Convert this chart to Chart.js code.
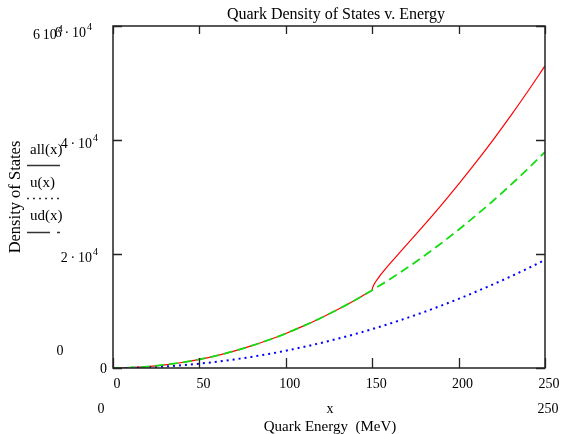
<!DOCTYPE html>
<html>
<head>
<meta charset="utf-8">
<script src="https://cdn.jsdelivr.net/npm/chart.js@4"></script>
<style>
  html, body { margin: 0; padding: 0; background: #fff; }
  #wrap { width: 561px; height: 434px; }
</style>
</head>
<body>
<div id="wrap"><canvas id="dosChart" width="561" height="434"></canvas></div>
<script>
// quark energy (MeV) samples
const energy = [0, 10, 20, 30, 40, 50, 60, 70, 80, 90, 100, 110, 120, 130, 140, 150,
                160, 170, 180, 190, 200, 210, 220, 230, 240, 250];
// ud(x) - green dashed
const udDensity = [0, 60, 240, 550, 970, 1520, 2180, 2970, 3880, 4910, 6060, 7340, 8730, 10250, 11890, 13650,
                   15530, 17530, 19650, 21890, 24260, 26750, 29350, 32080, 34930, 37900];
// u(x) - blue dotted
const uDensity = [0, 30, 120, 275, 485, 760, 1090, 1485, 1940, 2455, 3030, 3670, 4365, 5125, 5945, 6825,
                  7765, 8765, 9825, 10945, 12130, 13375, 14675, 16040, 17465, 18950];
// all(x) - red solid; below the 150 MeV threshold it lies on ud(x)
const allEnergyLow = [0, 10, 20, 30, 40, 50, 60, 70, 80, 90, 100, 110, 120, 130, 140, 150];
const allDensityLow = [0, 60, 240, 550, 970, 1520, 2180, 2970, 3880, 4910, 6060, 7340, 8730, 10250, 11890, 13650];
const allEnergyHigh = [150, 150.1, 150.5, 151, 152, 154, 157, 160, 165, 170, 180, 190, 200, 210, 220, 230, 240, 250];
const allDensityHigh = [13650, 13910, 14290, 14620, 15140, 16000, 17145, 18220, 19935, 21640, 25060, 28580,
                        32250, 36070, 40040, 44190, 48510, 53000];

const xTicks = [0, 50, 100, 150, 200, 250];
const yTicks = [0, 20000, 40000, 60000];
const yTickLabels = [["0", ""], ["2\u2009\u00b7\u200910", "4"], ["4\u2009\u00b7\u200910", "4"], ["6\u2009\u00b7\u200910", "4"]];

const SERIF = '"Liberation Serif", "DejaVu Serif", serif';

function pts(xs, ys) {
  return xs.map((x, i) => ({ x: x, y: ys[i] }));
}

function supText(ctx, base, sup, x, y, align) {
  ctx.font = '14px ' + SERIF;
  const bw = ctx.measureText(base).width;
  ctx.font = '10px ' + SERIF;
  const sw = sup ? ctx.measureText(sup).width + 1 : 0;
  let left = x;
  if (align === 'right') left = x - bw - sw;
  else if (align === 'center') left = x - (bw + sw) / 2;
  ctx.textAlign = 'left';
  ctx.font = '14px ' + SERIF;
  ctx.fillText(base, left, y);
  if (sup) {
    ctx.font = '10px ' + SERIF;
    ctx.fillText(sup, left + bw + 1, y - 7);
  }
}

const framePlugin = {
  id: 'mathcadFrame',
  afterDraw(chart) {
    const ctx = chart.ctx;
    const a = chart.chartArea;
    const xs = chart.scales.x;
    const ys = chart.scales.y;
    ctx.save();
    ctx.fillStyle = '#000';
    ctx.strokeStyle = '#222';
    ctx.lineWidth = 1.5;
    ctx.setLineDash([]);
    ctx.strokeRect(a.left, a.top, a.right - a.left, a.bottom - a.top);

    // inward ticks
    ctx.lineWidth = 1.3;
    xTicks.forEach(v => {
      const px = Math.round(xs.getPixelForValue(v)) + 0.5;
      ctx.beginPath();
      ctx.moveTo(px, a.bottom); ctx.lineTo(px, a.bottom - 10);
      ctx.moveTo(px, a.top); ctx.lineTo(px, a.top + 8);
      ctx.stroke();
    });
    yTicks.forEach(v => {
      const py = Math.round(ys.getPixelForValue(v)) + 0.5;
      ctx.beginPath();
      ctx.moveTo(a.left, py); ctx.lineTo(a.left + 9, py);
      ctx.moveTo(a.right, py); ctx.lineTo(a.right - 9, py);
      ctx.stroke();
    });

    // x tick labels
    ctx.font = '14px ' + SERIF;
    ctx.textAlign = 'center';
    ctx.textBaseline = 'alphabetic';
    xTicks.forEach(v => {
      ctx.fillText(String(v), xs.getPixelForValue(v) + 4, a.bottom + 20);
    });

    // y tick labels
    yTicks.forEach((v, i) => {
      const lab = yTickLabels[i];
      const py = ys.getPixelForValue(v);
      if (v === 0) supText(ctx, lab[0], lab[1], a.left - 6, py + 5, 'right');
      else if (i === yTicks.length - 1) supText(ctx, lab[0], lab[1], a.left - 21, py + 11, 'right');
      else supText(ctx, lab[0], lab[1], a.left - 15, py + 8, 'right');
    });

    // axis limit labels
    supText(ctx, '6\u200910', '4', 33, 39, 'left');
    supText(ctx, '0', '', 60, 355, 'center');
    supText(ctx, '0', '', 101, 413, 'center');
    supText(ctx, '250', '', 548, 413, 'center');
    supText(ctx, 'x', '', 330, 413, 'center');

    // title and axis titles
    ctx.font = '16px ' + SERIF;
    ctx.textAlign = 'center';
    ctx.fillText('Quark Density of States v. Energy', 336, 19);
    ctx.font = '15px ' + SERIF;
    ctx.fillText('Quark Energy  (MeV)', 330, 431);
    ctx.save();
    ctx.font = '16.5px ' + SERIF;
    ctx.translate(20, 197);
    ctx.rotate(-Math.PI / 2);
    ctx.fillText('Density of States', 0, 0);
    ctx.restore();

    // trace legend in the left margin
    ctx.textAlign = 'left';
    ctx.font = '15px ' + SERIF;
    ctx.fillText('all(x)', 30, 154);
    ctx.fillText('u(x)', 30, 187);
    ctx.fillText('ud(x)', 30, 220);
    ctx.strokeStyle = '#333';
    ctx.lineWidth = 1.3;
    ctx.beginPath(); ctx.moveTo(27, 165.5); ctx.lineTo(60, 165.5); ctx.stroke();
    ctx.setLineDash([2, 4]);
    ctx.beginPath(); ctx.moveTo(27, 198.5); ctx.lineTo(60, 198.5); ctx.stroke();
    ctx.setLineDash([23, 7]);
    ctx.beginPath(); ctx.moveTo(27, 232.5); ctx.lineTo(60, 232.5); ctx.stroke();
    ctx.restore();
  }
};

const redStyle = {
  borderColor: '#ff0000',
  borderWidth: 1.2,
  pointRadius: 0,
  cubicInterpolationMode: 'monotone',
  order: 3,
};

new Chart(document.getElementById('dosChart').getContext('2d'), {
  type: 'line',
  data: {
    datasets: [
      Object.assign({ label: 'all(x)', data: pts(allEnergyLow, allDensityLow) }, redStyle),
      Object.assign({ label: 'all(x) above threshold', data: pts(allEnergyHigh, allDensityHigh) }, redStyle),
      {
        label: 'u(x)',
        data: pts(energy, uDensity),
        borderColor: '#0000ff',
        borderWidth: 2,
        borderDash: [2, 4],
        pointRadius: 0,
        cubicInterpolationMode: 'monotone',
        order: 2,
      },
      {
        label: 'ud(x)',
        data: pts(energy, udDensity),
        borderColor: '#11dd11',
        borderWidth: 1.8,
        borderDash: [9, 5],
        pointRadius: 0,
        cubicInterpolationMode: 'monotone',
        order: 1,
      },
    ],
  },
  options: {
    responsive: false,
    animation: false,
    layout: { padding: { left: 113, right: 16, top: 26, bottom: 66 } },
    plugins: { legend: { display: false }, tooltip: { enabled: false } },
    scales: {
      x: { type: 'linear', min: 0, max: 250, display: false },
      y: { type: 'linear', min: 0, max: 60000, display: false },
    },
  },
  plugins: [framePlugin],
});
</script>
</body>
</html>
